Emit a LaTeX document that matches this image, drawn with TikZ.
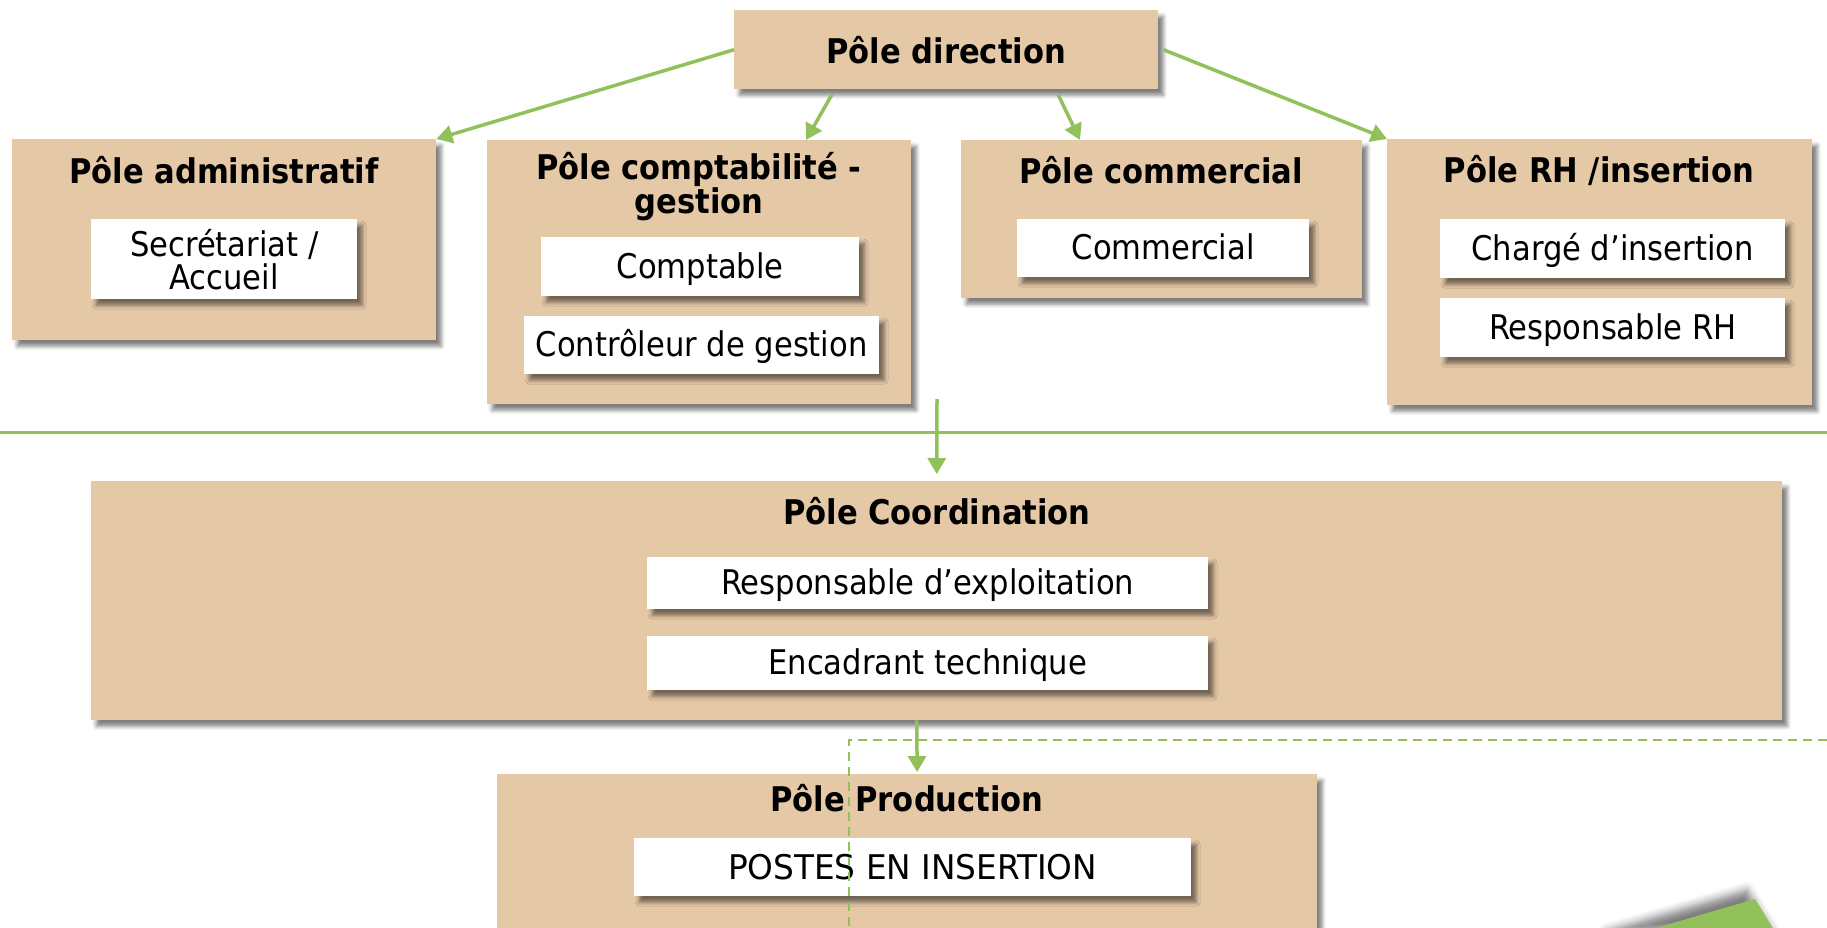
\documentclass[tikz,border=0pt]{standalone}
\usepackage{fontspec}
\setmainfont{DejaVu Sans Condensed}
\usetikzlibrary{arrows.meta,shadows.blur}
\definecolor{beige}{HTML}{E5C8A6}
\definecolor{vert}{HTML}{92C05B}
\begin{document}
\begin{tikzpicture}[x=1pt,y=-1pt,
  shd/.style={blur shadow={shadow xshift=5pt, shadow yshift=-6pt, shadow blur radius=4pt, shadow opacity=50}},
  pole/.style={fill=beige, anchor=north west, inner sep=0pt, shd},
  job/.style={fill=white, anchor=north west, inner sep=0pt, align=center, font=\fontsize{34}{33}\selectfont, shd},
  one/.style={text height=30pt, text depth=7pt},
  ttl/.style={inner sep=0pt, align=center, font=\bfseries\fontsize{34}{34}\selectfont},
  arr/.style={draw=vert, line width=3.5pt, -{Triangle[width=18pt,length=16pt]}},
  sep/.style={draw=vert, line width=3pt},
  dsh/.style={draw=vert, line width=2pt, dash pattern=on 9pt off 6pt}]
\useasboundingbox (0,0) rectangle (1827,928);
% top pole
\node[pole, minimum width=424pt, minimum height=79pt, font=\bfseries\fontsize{34}{34}\selectfont] (dir) at (734,10) {Pôle direction};
% second row
\node[pole, minimum width=424pt, minimum height=201pt] (adm) at (12,139) {};
\node[pole, minimum width=424pt, minimum height=264pt] (cpt) at (487,140) {};
\node[pole, minimum width=401pt, minimum height=158pt] (com) at (961,140) {};
\node[pole, minimum width=425pt, minimum height=266pt] (rh) at (1387,139) {};
\node[ttl] (tadm) at (224,170) {Pôle administratif};
\node[ttl] (tcpt) at (699,187) {Pôle comptabilité -\\gestion};
\node[ttl] (tcom) at (1161,170) {Pôle commercial};
\node[ttl] (trh) at (1599,170) {Pôle RH /insertion};
\node[job, minimum width=266pt, minimum height=80pt] (sec) at (91,219) {Secrétariat /\\Accueil};
\node[job, one, minimum width=318pt, minimum height=59pt] (cptb) at (541,237) {Comptable};
\node[job, one, minimum width=355pt, minimum height=58pt] (ctrl) at (524,316) {Contrôleur de gestion};
\node[job, one, minimum width=292pt, minimum height=58pt] (comm) at (1017,219) {Commercial};
\node[job, one, minimum width=345pt, minimum height=59pt] (charge) at (1440,219) {Chargé d’insertion};
\node[job, one, minimum width=345pt, minimum height=59pt] (resprh) at (1440,298) {Responsable RH};
% coordination
\node[pole, minimum width=1691pt, minimum height=239pt] (coo) at (91,481) {};
\node[ttl] (tcoo) at (937,511) {Pôle Coordination};
\node[job, one, minimum width=561pt, minimum height=52pt] (resexp) at (647,557) {Responsable d’exploitation};
\node[job, one, minimum width=561pt, minimum height=54pt] (encad) at (647,636) {Encadrant technique};
% production
\node[pole, minimum width=820pt, minimum height=160pt] (prod) at (497,774) {};
\node[ttl] (tprod) at (907,798) {Pôle Production};
\node[job, minimum width=557pt, minimum height=58pt] (postes) at (634,838) {\addfontfeature{FakeStretch=1.07}POSTES EN INSERTION};
% connectors
\draw[arr] (dir.west) -- (adm.north east);
\draw[arr] ([xshift=98pt,yshift=-5pt]dir.south west) -- ([xshift=319pt]cpt.north west);
\draw[arr] ([xshift=324pt,yshift=-5pt]dir.south west) -- ([xshift=119pt]com.north west);
\draw[arr] ([xshift=5pt]dir.east) -- (rh.north west);
\coordinate (hl) at (0,432);
\coordinate (hr) at (1827,432);
\draw[sep] (hl) -- (hr);
\coordinate (up) at (937,399);
\draw[arr, shorten >=7pt] (up) -- (coo.north);
\draw[arr, shorten >=2pt] ([xshift=-20pt]coo.south) -- ([xshift=10pt]prod.north);
\coordinate (d1) at (1827,740);
\coordinate (d2) at (849,740);
\coordinate (d3) at (849,928);
\draw[dsh] (d1) -- (d2) -- (d3);
% green corner shape
\fill[vert, blur shadow={shadow xshift=-8pt, shadow yshift=9pt, shadow blur radius=8pt, shadow opacity=50}] (1615,940) -- (1755,899) -- (1780,940) -- cycle;
\end{tikzpicture}
\end{document}
